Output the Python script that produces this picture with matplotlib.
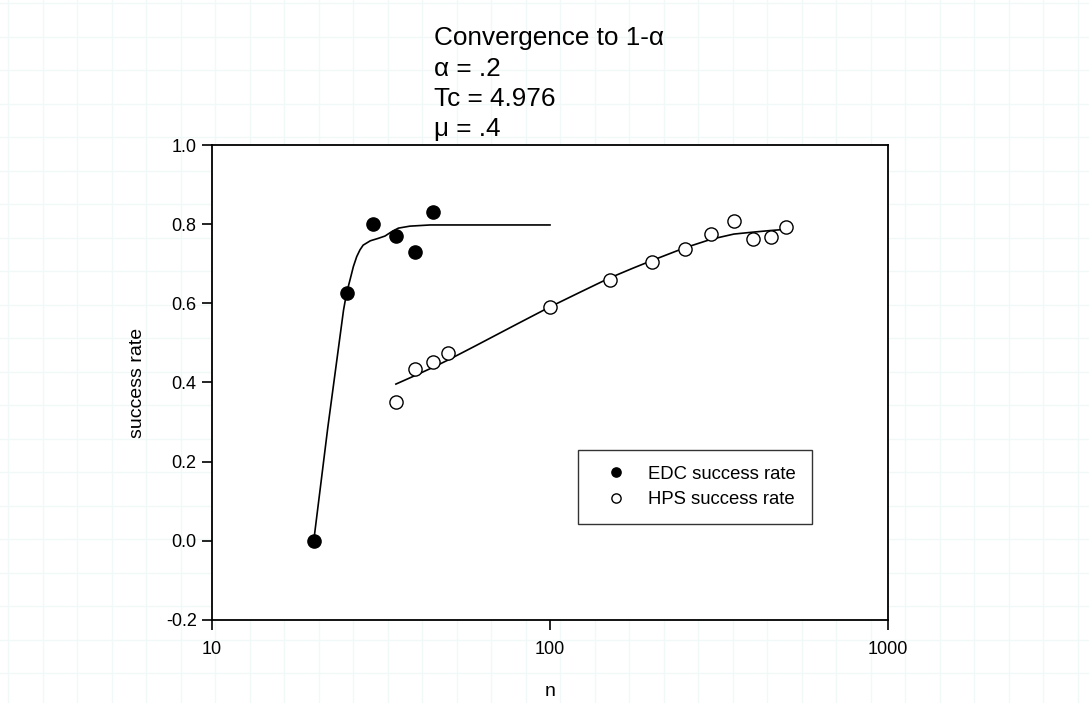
import numpy as np
import matplotlib
matplotlib.use("Agg")
import matplotlib.pyplot as plt
from matplotlib.lines import Line2D

plt.rcParams['font.family'] = ['Liberation Sans', 'DejaVu Sans']

# ---- data ----
edc_n = [20, 25, 30, 35, 40, 45]
edc_rate = [0.0, 0.625, 0.80, 0.770, 0.730, 0.831]

hps_n = [35, 40, 45, 50, 100, 150, 200, 250, 300, 350, 400, 450, 500]
hps_rate = [0.351, 0.434, 0.452, 0.475, 0.591, 0.659, 0.705, 0.737, 0.775, 0.808, 0.763, 0.768, 0.793]

edc_fit_n = [20, 22, 24.5, 25, 25.6, 26.2, 26.8, 27.4, 28.0, 29.4, 31.0, 32.5, 34.0,
             35.6, 38.5, 44.2, 60, 100]
edc_fit_rate = [0.0, 0.285, 0.583, 0.625, 0.659, 0.693, 0.718, 0.735, 0.747, 0.758, 0.764,
                0.770, 0.781, 0.790, 0.795, 0.798, 0.798, 0.798]

hps_fit_n = [35, 40, 45, 50, 60, 70, 80, 100, 122, 150, 175, 200, 250, 300, 350, 400, 450, 500]
hps_fit_rate = [0.396, 0.418, 0.438, 0.457, 0.492, 0.522, 0.548, 0.591, 0.627, 0.664, 0.688,
                0.708, 0.740, 0.762, 0.775, 0.780, 0.784, 0.787]

title_lines = ["Convergence to 1-α", "α = .2", "Tc = 4.976", "μ = .4"]
x_ticks = [10, 100, 1000]
y_ticks = [-0.2, 0.0, 0.2, 0.4, 0.6, 0.8, 1.0]

W, H = 1089, 703
fig = plt.figure(figsize=(W / 100, H / 100), dpi=100)

# faint page grid in the background
for gx in np.arange(8, W, 34.5):
    fig.add_artist(Line2D([gx / W, gx / W], [0, 1], color='#f1f9f8', lw=1.0,
                          transform=fig.transFigure, zorder=-10))
for gy in np.arange(3, H, 33.5):
    fig.add_artist(Line2D([0, 1], [1 - gy / H, 1 - gy / H], color='#f1f9f8', lw=1.0,
                          transform=fig.transFigure, zorder=-10))

ax = fig.add_axes([212 / W, 1 - 620 / H, (888 - 212) / W, (620 - 145) / H])
ax.set_facecolor('white')
ax.set_xscale('log')
ax.set_xlim(10, 1000)
ax.set_ylim(-0.2, 1.0)

ax.plot(edc_fit_n, edc_fit_rate, color='black', lw=1.2, zorder=2,
        solid_joinstyle='round')
ax.plot(hps_fit_n, hps_fit_rate, color='black', lw=1.2, zorder=2,
        solid_joinstyle='round')
ax.plot(edc_n, edc_rate, 'o', color='black', markersize=9.5, zorder=3,
        label='EDC success rate')
ax.plot(hps_n, hps_rate, 'o', markerfacecolor='white', markeredgecolor='black',
        markeredgewidth=1.0, markersize=9.5, zorder=3, label='HPS success rate')

ax.set_xticks(x_ticks)
ax.set_xticklabels([str(t) for t in x_ticks])
ax.xaxis.set_minor_locator(matplotlib.ticker.NullLocator())
ax.set_yticks(y_ticks)
ax.set_yticklabels([f"{t:.1f}" for t in y_ticks])
ax.tick_params(direction='out', length=7, width=1.2, labelsize=13, pad=4)
ax.tick_params(axis='x', pad=8)
for s in ax.spines.values():
    s.set_linewidth(1.3)

ax.set_xlabel('n', fontsize=14, labelpad=18)
ax.set_ylabel('success rate', fontsize=14, labelpad=14)

leg = ax.legend(loc='upper left', bbox_to_anchor=((578 - 212) / 676, 1 - (450 - 145) / 475),
                frameon=True, fancybox=False, edgecolor='black', fontsize=13.3,
                markerscale=0.7, handlelength=2.4, handletextpad=0.55,
                borderpad=0.85, labelspacing=0.45, borderaxespad=0)
leg.get_frame().set_linewidth(1.0)

ys = [38, 69, 99, 129]
for line, yy in zip(title_lines, ys):
    fig.text(434 / W, 1 - yy / H, line, fontsize=18.8, ha='left', va='center')

fig.savefig('out.png', dpi=100, facecolor='white')
